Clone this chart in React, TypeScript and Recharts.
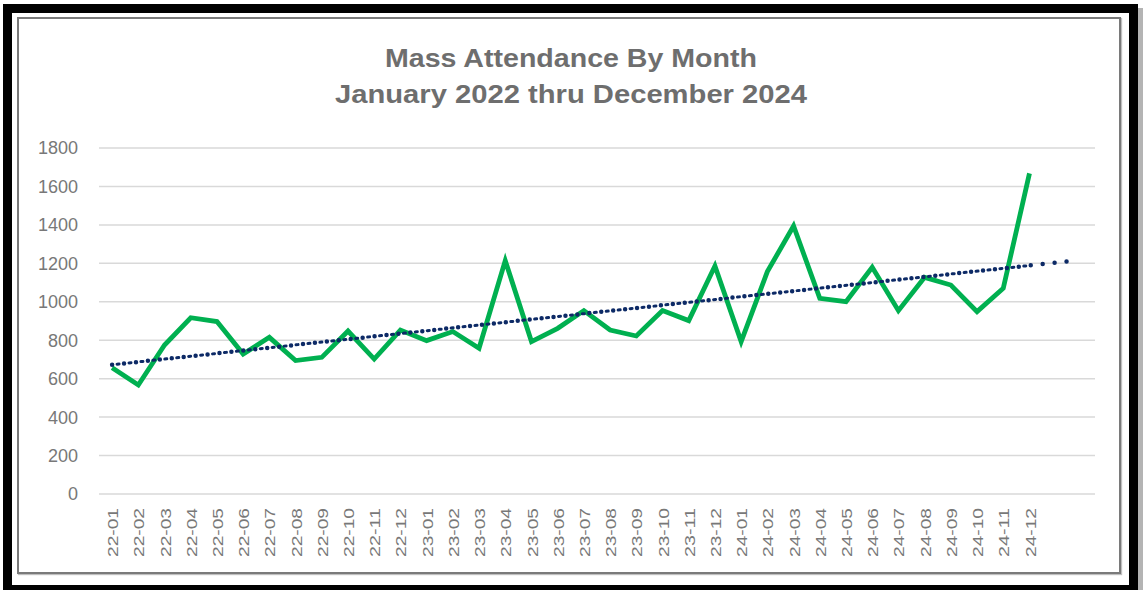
import React from "react";
import { LineChart, Line, XAxis, YAxis, CartesianGrid } from "recharts";

const MONTHS = [
  "22-01", "22-02", "22-03", "22-04", "22-05", "22-06", "22-07", "22-08", "22-09", "22-10", "22-11", "22-12",
  "23-01", "23-02", "23-03", "23-04", "23-05", "23-06", "23-07", "23-08", "23-09", "23-10", "23-11", "23-12",
  "24-01", "24-02", "24-03", "24-04", "24-05", "24-06", "24-07", "24-08", "24-09", "24-10", "24-11", "24-12",
];

const ATTENDANCE = [
  657, 567, 775, 917, 897, 728, 815, 694, 711, 848, 702, 853,
  798, 845, 758, 1214, 793, 862, 954, 853, 822, 954, 902, 1186,
  793, 1157, 1394, 1018, 1001, 1179, 954, 1127, 1087, 949, 1070, 1668,
];

const Y_TICKS = [0, 200, 400, 600, 800, 1000, 1200, 1400, 1600, 1800];
const TITLE = ["Mass Attendance By Month", "January 2022 thru December 2024"];

// excel-style linear trendline, forecast forward a bit past the last month
const TREND_FORWARD = 1.7;

const rows = MONTHS.map((m, i) => ({ x: i + 1, month: m, attendance: ATTENDANCE[i] }));

function linearFit(ys: number[]) {
  const n = ys.length;
  const xs = ys.map((_, i) => i + 1);
  const mx = xs.reduce((s, v) => s + v, 0) / n;
  const my = ys.reduce((s, v) => s + v, 0) / n;
  let num = 0;
  let den = 0;
  xs.forEach((x, i) => {
    num += (x - mx) * (ys[i] - my);
    den += (x - mx) * (x - mx);
  });
  const slope = num / den;
  return (x: number) => my + slope * (x - mx);
}

const fit = linearFit(ATTENDANCE);
const lastX = MONTHS.length;
const trendFull = [
  { x: 1, trend: fit(1) },
  { x: lastX + TREND_FORWARD, trend: fit(lastX + TREND_FORWARD) },
];
const trendData = [
  { x: 1, trend: fit(1) },
  { x: lastX, trend: fit(lastX) },
];

const GREY = "#787878";
const FONT = "'Liberation Sans', Arial, sans-serif";

function MonthTick(props: any) {
  const { x, y, payload } = props;
  return (
    <g transform={`translate(${x + 1},${y + 14})`}>
      <text
        transform="rotate(-90)"
        textAnchor="end"
        dy="0.36em"
        fontSize={14}
        fontFamily={FONT}
        fill={GREY}
        textLength={49}
        lengthAdjust="spacingAndGlyphs"
      >
        {MONTHS[payload.value - 1]}
      </text>
    </g>
  );
}

export default function App() {
  return (
    <div style={{ position: "absolute", left: 0, top: 0, width: 1143, height: 590, background: "#fff", overflow: "hidden" }}>
      <div style={{ position: "absolute", left: 1137, top: 8, width: 6, height: 590, background: "#b4b4b4" }} />
      <div
        style={{
          position: "absolute",
          left: 3,
          top: 4,
          width: 1135,
          height: 590,
          border: "9px solid #000",
          boxSizing: "border-box",
        }}
      />
      <div
        style={{
          position: "absolute",
          left: 17,
          top: 17,
          width: 1104,
          height: 557,
          border: "2px solid #7a7a7a",
          boxSizing: "border-box",
          background: "#fff",
          boxShadow: "1px 1px 1px rgba(0,0,0,0.25)",
        }}
      />
      <svg style={{ position: "absolute", left: 0, top: 0 }} width={1143} height={130}>
        <text x={571} y={67} textAnchor="middle" fontSize={25} fontWeight="bold" fontFamily={FONT} fill="#6e6e6e" textLength={372} lengthAdjust="spacingAndGlyphs">
          {TITLE[0]}
        </text>
        <text x={571} y={103} textAnchor="middle" fontSize={25} fontWeight="bold" fontFamily={FONT} fill="#6e6e6e" textLength={472} lengthAdjust="spacingAndGlyphs">
          {TITLE[1]}
        </text>
      </svg>
      <div style={{ position: "absolute", left: 19, top: 19 }}>
        <LineChart width={1100} height={553} data={rows} margin={{ top: 129, right: 24, bottom: 0, left: 0 }}>
          <CartesianGrid vertical={false} stroke="#d9d9d9" strokeWidth={1.5} />
          <XAxis
            dataKey="x"
            type="number"
            domain={[0.5, 38.5]}
            ticks={rows.map((r) => r.x)}
            interval={0}
            height={78}
            axisLine={false}
            tickLine={false}
            tickSize={0}
            tickMargin={0}
            tick={<MonthTick />}
          />
          <YAxis
            domain={[0, 1800]}
            ticks={Y_TICKS}
            width={80}
            axisLine={false}
            tickLine={false}
            tickSize={0}
            tickMargin={21}
            tick={{ fontSize: 18, fill: GREY, fontFamily: FONT }}
          />
          <Line
            dataKey="attendance"
            stroke="#00b050"
            strokeWidth={4.8}
            strokeLinejoin="miter"
            dot={false}
            activeDot={false}
            isAnimationActive={false}
          />
          <Line
            data={trendFull}
            dataKey="trend"
            stroke="#0d2a66"
            strokeWidth={4.5}
            strokeLinecap="round"
            strokeDasharray="0 12"
            dot={false}
            activeDot={false}
            isAnimationActive={false}
          />
          <Line
            data={trendData}
            dataKey="trend"
            stroke="#0d2a66"
            strokeWidth={3}
            strokeLinecap="round"
            strokeDasharray="2 10"
            strokeDashoffset={-5}
            dot={false}
            activeDot={false}
            isAnimationActive={false}
          />
        </LineChart>
      </div>
    </div>
  );
}
